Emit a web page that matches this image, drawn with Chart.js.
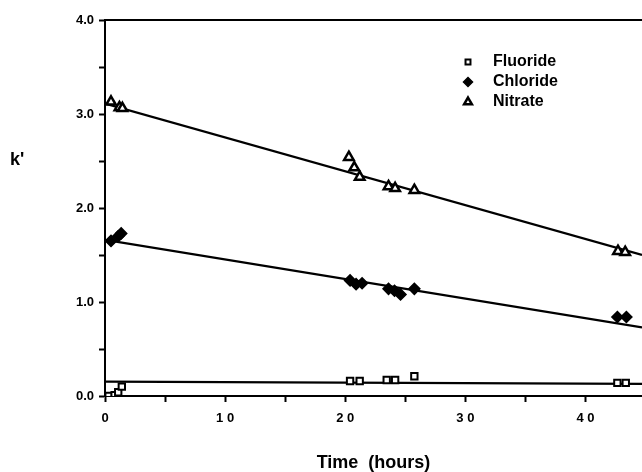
<!DOCTYPE html>
<html>
<head>
<meta charset="utf-8">
<script src="https://cdn.jsdelivr.net/npm/chart.js@4"></script>
<style>
  html, body { margin: 0; padding: 0; background: #fff; overflow: hidden; }
  #wrap { position: relative; width: 642px; height: 472px; }
</style>
</head>
<body>
<div id="wrap"><canvas id="chart"></canvas></div>
<script>
// values (time in hours, k')
const fluorideX = [0.3, 0.8, 1.1, 1.4, 20.4, 21.2, 23.45, 24.15, 25.75, 42.65, 43.35];
const fluorideY = [0.0, 0.01, 0.04, 0.10, 0.16, 0.16, 0.17, 0.17, 0.21, 0.14, 0.14];

const chlorideX = [0.5, 1.1, 1.35, 20.4, 20.9, 21.4, 23.6, 24.1, 24.6, 25.75, 42.65, 43.4];
const chlorideY = [1.65, 1.70, 1.73, 1.23, 1.19, 1.20, 1.14, 1.12, 1.08, 1.14, 0.84, 0.84];

const nitrateX = [0.5, 1.2, 1.45, 20.3, 20.75, 21.2, 23.6, 24.15, 25.75, 42.7, 43.3];
const nitrateY = [3.13, 3.07, 3.06, 2.54, 2.43, 2.33, 2.23, 2.21, 2.19, 1.54, 1.53];

// end points of the drawn fit lines
const fitX = [0, 44.7];
const fluorideFit = [0.152, 0.128];
const chlorideFit = [1.66, 0.73];
const nitrateFit = [3.11, 1.50];

const xTicks = [0, 10, 20, 30, 40];
const xTickLabels = ['0', '1 0', '2 0', '3 0', '4 0'];
const yTicks = [0, 1, 2, 3, 4];
const yTickLabels = ['0.0', '1.0', '2.0', '3.0', '4.0'];

const toPoints = (xs, ys) => xs.map((x, i) => ({ x, y: ys[i] }));

const extras = {
  id: 'extras',
  afterDraw(chart) {
    const { ctx, chartArea } = chart;
    ctx.save();
    // top frame line
    ctx.strokeStyle = '#000';
    ctx.lineWidth = 2;
    ctx.beginPath();
    ctx.moveTo(chartArea.left, chartArea.top);
    ctx.lineTo(chartArea.right, chartArea.top);
    ctx.stroke();

    // y axis label
    ctx.fillStyle = '#000';
    ctx.font = 'bold 18px "Liberation Sans", Arial, sans-serif';
    ctx.textBaseline = 'middle';
    ctx.textAlign = 'left';
    ctx.fillText("k'", 10, 160);

    // legend
    const items = chart.data.datasets.filter(d => d.type === 'scatter');
    ctx.font = 'bold 16px "Liberation Sans", Arial, sans-serif';
    items.forEach((d, i) => {
      const y = 62 + i * 20;
      ctx.strokeStyle = '#000';
      ctx.fillStyle = d.pointBackgroundColor;
      ctx.lineWidth = d.pointBorderWidth;
      Chart.helpers.drawPoint(ctx, {
        pointStyle: d.pointStyle, radius: d.pointRadius - 1, rotation: 0, borderWidth: d.pointBorderWidth
      }, 468, y);
      ctx.fillStyle = '#000';
      ctx.fillText(d.label, 493, y);
    });
    ctx.restore();
  }
};

const lineDs = (ys) => ({
  type: 'line',
  data: toPoints(fitX, ys),
  borderColor: '#000',
  borderWidth: 2.2,
  pointRadius: 0,
  fill: false,
  tension: 0,
});

new Chart(document.getElementById('chart'), {
  type: 'scatter',
  data: {
    datasets: [
      {
        type: 'scatter',
        label: 'Fluoride',
        data: toPoints(fluorideX, fluorideY),
        pointStyle: 'rect',
        pointRadius: 4.5,
        pointBackgroundColor: '#fff',
        pointBorderColor: '#000',
        pointBorderWidth: 2,
      },
      {
        type: 'scatter',
        label: 'Chloride',
        data: toPoints(chlorideX, chlorideY),
        pointStyle: 'rectRot',
        pointRadius: 5.5,
        pointBackgroundColor: '#000',
        pointBorderColor: '#000',
        pointBorderWidth: 1.5,
      },
      {
        type: 'scatter',
        label: 'Nitrate',
        data: toPoints(nitrateX, nitrateY),
        pointStyle: 'triangle',
        pointRadius: 5.5,
        pointBackgroundColor: '#fff',
        pointBorderColor: '#000',
        pointBorderWidth: 2.5,
      },
      lineDs(fluorideFit),
      lineDs(chlorideFit),
      lineDs(nitrateFit),
    ],
  },
  options: {
    responsive: true,
    maintainAspectRatio: false,
    animation: false,
    layout: { autoPadding: false, padding: { top: 20, right: 0, bottom: 0, left: 0 } },
    plugins: {
      legend: { display: false },
      tooltip: { enabled: false },
    },
    scales: {
      x: {
        type: 'linear',
        min: 0,
        max: 44.7,
        afterFit: (s) => { s.height = 76; s.paddingRight = 0; s.paddingLeft = 0; },
        border: { color: '#000', width: 2 },
        grid: { drawOnChartArea: false, color: '#000', tickLength: 6, tickWidth: 2 },
        ticks: {
          stepSize: 5,
          includeBounds: false,
          padding: 9,
          color: '#000',
          maxRotation: 0,
          autoSkip: false,
          font: { family: '"Liberation Sans", Arial, sans-serif', size: 13, weight: 'bold' },
          callback: (v) => {
            const i = xTicks.indexOf(v);
            return i >= 0 ? xTickLabels[i] : '';
          },
        },
        title: {
          display: true,
          text: 'Time  (hours)',
          color: '#000',
          padding: { top: 0, bottom: 0 },
          font: { family: '"Liberation Sans", Arial, sans-serif', size: 18, weight: 'bold', lineHeight: 1 },
        },
      },
      y: {
        min: 0,
        max: 4,
        afterFit: (s) => { s.width = 105; s.paddingTop = 0; s.paddingBottom = 0; },
        border: { color: '#000', width: 2 },
        grid: { drawOnChartArea: false, color: '#000', tickLength: 6, tickWidth: 2 },
        ticks: {
          stepSize: 0.5,
          padding: 5,
          color: '#000',
          autoSkip: false,
          font: { family: '"Liberation Sans", Arial, sans-serif', size: 13, weight: 'bold' },
          callback: (v) => {
            const i = yTicks.indexOf(v);
            return i >= 0 ? yTickLabels[i] : '';
          },
        },
      },
    },
  },
  plugins: [extras],
});
</script>
</body>
</html>
